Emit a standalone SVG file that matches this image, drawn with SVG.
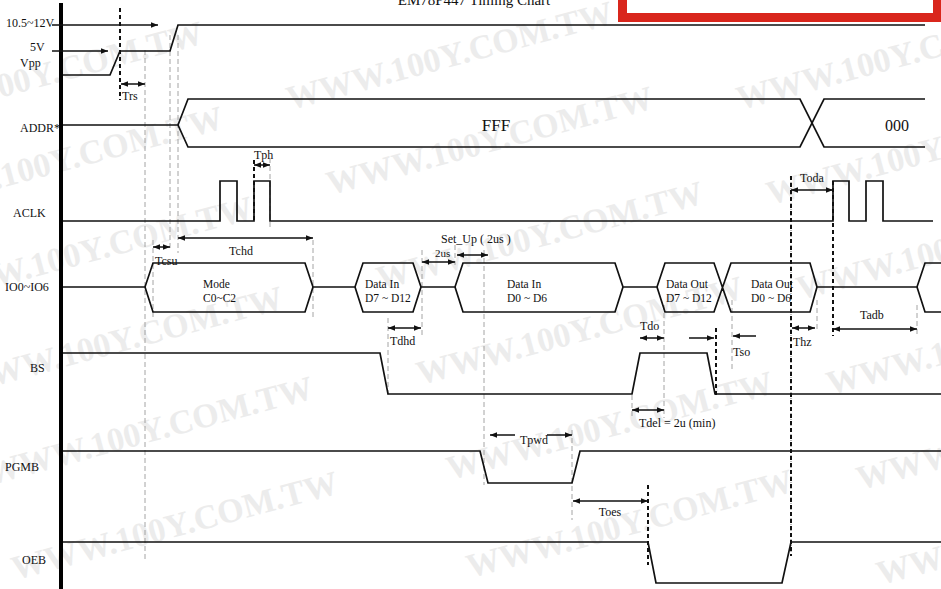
<svg xmlns="http://www.w3.org/2000/svg" width="941" height="589" viewBox="0 0 941 589">
<style>
text{font-family:"Liberation Serif","Times New Roman",serif;fill:#111;font-size:12px}
.wm text{font-size:34px;font-weight:bold;fill:#ececec}
.sig{fill:none;stroke:#111;stroke-width:1.7;stroke-linejoin:miter}
.dim{fill:none;stroke:#111;stroke-width:1.5}
.gd{fill:none;stroke:#9a9a9a;stroke-width:0.9;stroke-dasharray:5,3}
.bd{fill:none;stroke:#111;stroke-width:2;stroke-dasharray:4,3}
.mid{text-anchor:middle}
.bx{font-size:11.5px}
</style>
<defs>
<marker id="ah" viewBox="0 0 10 10" refX="10" refY="5" markerWidth="7" markerHeight="7" markerUnits="userSpaceOnUse" orient="auto-start-reverse">
<path d="M0,1 L10,5 L0,9 Z" fill="#111"/>
</marker>
</defs>
<rect width="941" height="589" fill="#fff"/>
<g class="wm">
<text transform="translate(-120,130) rotate(-15)">WWW.100Y.COM.TW</text>
<text transform="translate(-100,215) rotate(-15)">WWW.100Y.COM.TW</text>
<text transform="translate(-70,305) rotate(-15)">WWW.100Y.COM.TW</text>
<text transform="translate(-40,395) rotate(-15)">WWW.100Y.COM.TW</text>
<text transform="translate(-10,485) rotate(-15)">WWW.100Y.COM.TW</text>
<text transform="translate(15,580) rotate(-15)">WWW.100Y.COM.TW</text>
<text transform="translate(290,110) rotate(-15)">WWW.100Y.COM.TW</text>
<text transform="translate(330,195) rotate(-15)">WWW.100Y.COM.TW</text>
<text transform="translate(380,290) rotate(-15)">WWW.100Y.COM.TW</text>
<text transform="translate(420,385) rotate(-15)">WWW.100Y.COM.TW</text>
<text transform="translate(450,480) rotate(-15)">WWW.100Y.COM.TW</text>
<text transform="translate(470,578) rotate(-15)">WWW.100Y.COM.TW</text>
<text transform="translate(740,110) rotate(-15)">WWW.100Y.COM.TW</text>
<text transform="translate(770,205) rotate(-15)">WWW.100Y.COM.TW</text>
<text transform="translate(800,300) rotate(-15)">WWW.100Y.COM.TW</text>
<text transform="translate(830,395) rotate(-15)">WWW.100Y.COM.TW</text>
<text transform="translate(860,490) rotate(-15)">WWW.100Y.COM.TW</text>
<text transform="translate(880,585) rotate(-15)">WWW.100Y.COM.TW</text>
</g>
<!-- banner -->
<rect x="618" y="-10" width="323" height="32" fill="#d9261c"/>
<rect x="627" y="-10" width="306" height="23" fill="#fff"/>
<text x="474" y="5" class="mid" style="font-size:15px">EM78P447 Timing Chart</text>
<!-- axis -->
<rect id="axis" x="59" y="3" width="4" height="586" fill="#000"/>
<g id="guides">
<path class="gd" d="M145,50V560 M170,35V250 M178,35V253 M153,240V320 M313,240V320 M270,158V230 M422,250V335 M388,318V395 M455,245V265 M484,250V485 M572,430V520 M632,395V416 M664,305V418 M732,300V370 M817,300V332 M917,305V336"/>
<path class="bd" d="M120,8V100 M254,160V222 M716,328V395 M833,181V336 M648,485V565"/>
<path d="M791,176V556" fill="none" stroke="#bbb" stroke-width="2" stroke-dasharray="1,2"/>
<path class="bd" d="M791,176V556"/>
</g>
<g id="vpp">
<path class="dim" d="M52,25H158" marker-end="url(#ah)"/>
<path class="dim" d="M52,51H108" marker-end="url(#ah)"/>
<path class="sig" d="M63,75H110L120,51H170L178,25H925"/>
<text x="6" y="27">10.5~12V</text>
<text x="30" y="51">5V</text>
<text x="20" y="67">Vpp</text>
</g>
<g id="addr">
<path class="sig" d="M63,125H178L188,99H800L824,147H925 M178,125L188,147H800L824,99H925"/>
<text x="20" y="132">ADDR*</text>
<text x="496" y="131" class="mid" style="font-size:17px">FFF</text>
<text x="897" y="131" class="mid" style="font-size:16px">000</text>
</g>
<g id="aclk">
<path class="sig" d="M63,221H220V181H237V221H254V181H270V221H833V181H849V221H866V181H883V221H933"/>
<text x="13" y="217">ACLK</text>
</g>
<g id="io">
<path class="sig" d="M63,287H145L153,263H305L313,287L305,312H153L145,287 M313,287H355L363,263H413L421,287L413,312H363L355,287 M421,287H455L463,263H615L623,287L615,312H463L455,287 M623,287H657L665,263H714L731,312H810L817,287L810,263H731L714,312H665L657,287 M817,287H917L925,263H941 M917,287L925,312H941"/>
<text x="5" y="291">IO0~IO6</text>
<text x="203" y="288" class="bx">Mode</text>
<text x="203" y="302" class="bx">C0~C2</text>
<text x="365" y="288" class="bx">Data In</text>
<text x="365" y="302" class="bx">D7 ~ D12</text>
<text x="507" y="288" class="bx">Data In</text>
<text x="507" y="302" class="bx">D0 ~ D6</text>
<text x="666" y="288" class="bx">Data Out</text>
<text x="666" y="302" class="bx">D7 ~ D12</text>
<text x="751" y="288" class="bx">Data Out</text>
<text x="751" y="302" class="bx">D0 ~ D6</text>
</g>
<g id="bs">
<path class="sig" d="M63,353H380L388,394H632L640,353H707L715,394H941"/>
<text x="30" y="372">BS</text>
</g>
<g id="pgmb">
<path class="sig" d="M63,451H480L488,483H572L580,451H941"/>
<text x="5" y="471">PGMB</text>
</g>
<g id="oeb">
<path class="sig" d="M63,542H648L656,583H782L791,542H941"/>
<text x="22" y="564">OEB</text>
</g>
<g id="connectors">
<path class="dim" d="M121,84H145" marker-start="url(#ah)" marker-end="url(#ah)"/>
<path class="dim" d="M254,165H270" marker-start="url(#ah)" marker-end="url(#ah)"/>
<path class="dim" d="M153,247H170" marker-start="url(#ah)" marker-end="url(#ah)"/>
<path class="dim" d="M178,238H313" marker-start="url(#ah)" marker-end="url(#ah)"/>
<path class="dim" d="M422,262H455" marker-start="url(#ah)" marker-end="url(#ah)"/>
<path class="dim" d="M457,255H488" marker-start="url(#ah)" marker-end="url(#ah)"/>
<path class="dim" d="M388,328H421" marker-start="url(#ah)" marker-end="url(#ah)"/>
<path class="dim" d="M640,338H664" marker-start="url(#ah)" marker-end="url(#ah)"/>
<path class="dim" d="M689,338H714" marker-end="url(#ah)"/>
<path class="dim" d="M756,336H733" marker-end="url(#ah)"/>
<path class="dim" d="M792,328H815" marker-start="url(#ah)" marker-end="url(#ah)"/>
<path class="dim" d="M791,190H833" marker-start="url(#ah)" marker-end="url(#ah)"/>
<path class="dim" d="M833,329H917" marker-start="url(#ah)" marker-end="url(#ah)"/>
<path class="dim" d="M632,410H664" marker-start="url(#ah)" marker-end="url(#ah)"/>
<path class="dim" d="M515,435H490" marker-end="url(#ah)"/>
<path class="dim" d="M547,435H572" marker-end="url(#ah)"/>
<path class="dim" d="M573,501H648" marker-start="url(#ah)" marker-end="url(#ah)"/>
</g>
<g id="dimlabels">
<text x="122" y="100">Trs</text>
<text x="254" y="159">Tph</text>
<text x="241" y="255" class="mid">Tchd</text>
<text x="155" y="265">Tcsu</text>
<text x="441" y="243">Set_Up ( 2us )</text>
<text x="435" y="257" style="font-size:11px">2us</text>
<text x="390" y="345">Tdhd</text>
<text x="640" y="330">Tdo</text>
<text x="733" y="356">Tso</text>
<text x="793" y="346">Thz</text>
<text x="800" y="182">Toda</text>
<text x="860" y="319">Tadb</text>
<text x="639" y="427">Tdel = 2u (min)</text>
<text x="534" y="444" class="mid">Tpwd</text>
<text x="610" y="516" class="mid">Toes</text>
</g>
</svg>
